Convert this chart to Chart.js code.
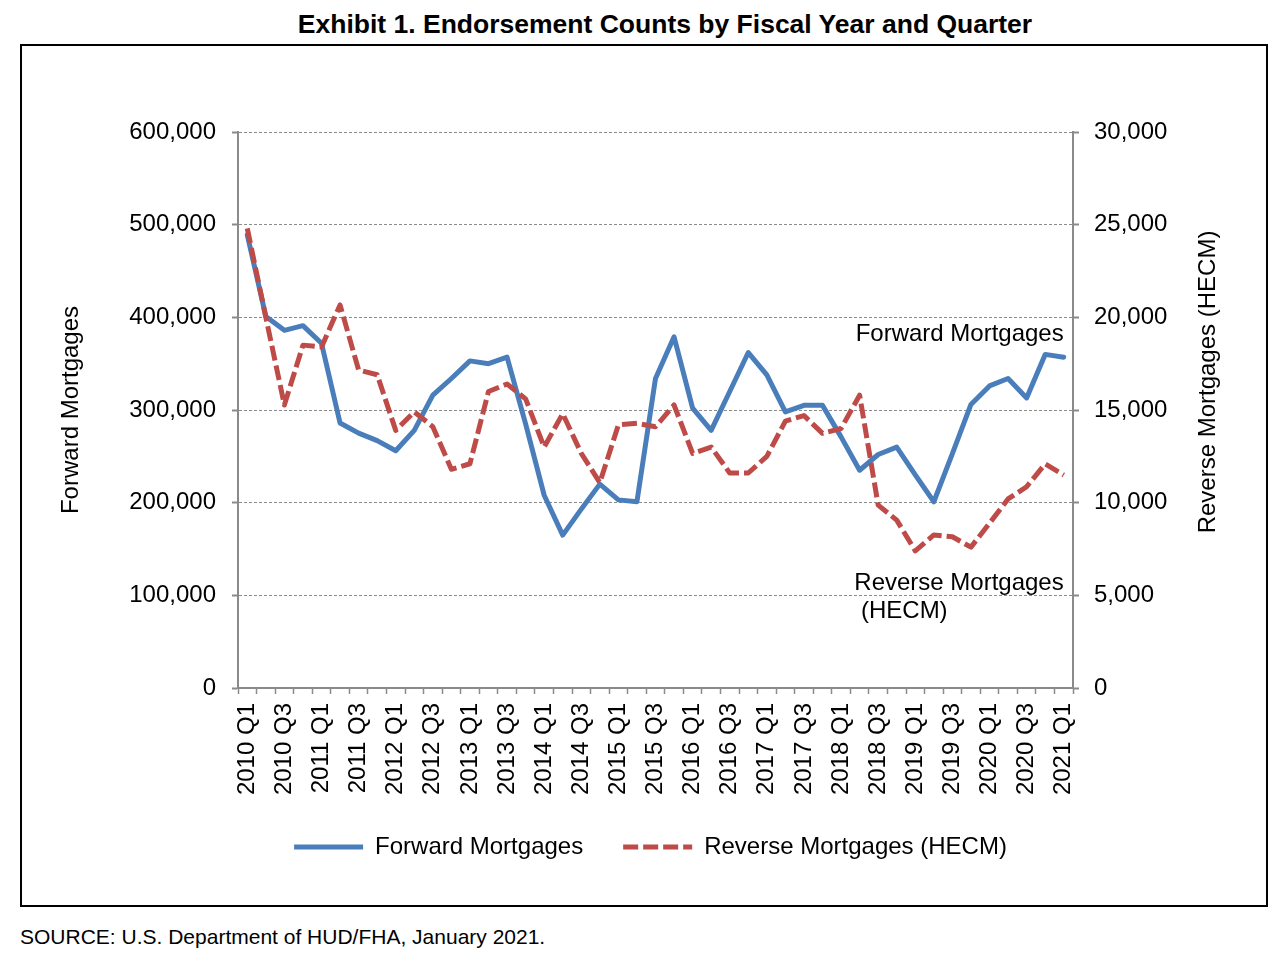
<!DOCTYPE html>
<html>
<head>
<meta charset="utf-8">
<title>Exhibit 1. Endorsement Counts by Fiscal Year and Quarter</title>
<script src="https://cdn.jsdelivr.net/npm/chart.js@4.4.1/dist/chart.umd.min.js"></script>
<style>
  html, body { margin: 0; padding: 0; background: #fff; }
  body {
    width: 1288px; height: 962px; position: relative; overflow: hidden;
    font-family: "Liberation Sans", Arial, Helvetica, sans-serif; color: #000;
  }
  .title {
    position: absolute; top: 9px; left: 42px; width: 1246px;
    text-align: center; font-weight: bold; font-size: 26.5px; line-height: 30px;
  }
  .frame {
    position: absolute; left: 20px; top: 44px; width: 1248px; height: 863px;
    border: 2px solid #000; box-sizing: border-box;
  }
  .chart-box { position: absolute; left: 0; top: 0; width: 1244px; height: 859px; }
  .source { position: absolute; left: 20px; top: 925px; font-size: 21px; line-height: 24px; }
</style>
</head>
<body>
<div class="title">Exhibit 1. Endorsement Counts by Fiscal Year and Quarter</div>
<div class="frame">
  <div class="chart-box"><canvas id="endorsementChart"></canvas></div>
</div>
<div class="source">SOURCE: U.S. Department of HUD/FHA, January 2021.</div>

<script>
// --- DATA ---
const quarters = [
    "2010 Q1", "2010 Q2", "2010 Q3", "2010 Q4", "2011 Q1", "2011 Q2", "2011 Q3", "2011 Q4",
    "2012 Q1", "2012 Q2", "2012 Q3", "2012 Q4", "2013 Q1", "2013 Q2", "2013 Q3", "2013 Q4",
    "2014 Q1", "2014 Q2", "2014 Q3", "2014 Q4", "2015 Q1", "2015 Q2", "2015 Q3", "2015 Q4",
    "2016 Q1", "2016 Q2", "2016 Q3", "2016 Q4", "2017 Q1", "2017 Q2", "2017 Q3", "2017 Q4",
    "2018 Q1", "2018 Q2", "2018 Q3", "2018 Q4", "2019 Q1", "2019 Q2", "2019 Q3", "2019 Q4",
    "2020 Q1", "2020 Q2", "2020 Q3", "2020 Q4", "2021 Q1"
];

const forwardMortgages = [
    489000, 401000, 386000, 391000, 372000, 286000, 275000, 267000,
    256000, 278000, 316000, 334000, 353000, 350000, 357000, 285000,
    208000, 165000, 193000, 220000, 203000, 201000, 334000, 379000,
    302000, 278000, 320000, 362000, 338000, 298000, 305000, 305000,
    271000, 235000, 252000, 260000, 230000, 201000, 253000, 306000,
    326000, 334000, 313000, 360000, 357000
];

const reverseMortgages = [
    24800, 20000, 15270, 18500, 18400, 20670, 17160, 16900,
    13900, 14900, 14100, 11800, 12100, 16000, 16400, 15600,
    13000, 14800, 12660, 11080, 14200, 14280, 14100, 15270,
    12660, 13000, 11600, 11600, 12500, 14400, 14700, 13740,
    14000, 15800, 9870, 9060, 7400, 8260, 8160, 7600,
    8890, 10200, 10860, 12090, 11490
];

// axis ranges
const forwardTicks = { min: 0, max: 600000, step: 100000 };
const reverseTicks = { min: 0, max: 30000, step: 5000 };

const FONT = "'Liberation Sans', Arial, Helvetica, sans-serif";
const AXIS_GRAY = '#8a8a8a';
const BLUE = '#4A7EBB';
const RED = '#BE4B48';

Chart.defaults.font.family = FONT;
Chart.defaults.font.size = 24;
Chart.defaults.color = '#000';

// in-plot series labels + right axis title (reads bottom to top)
const seriesLabels = {
    id: 'seriesLabels',
    afterDatasetsDraw(chart) {
        const { ctx, chartArea, scales: { x, y, y1 } } = chart;
        const xEnd = x.getPixelForValue(quarters.length - 1);
        ctx.save();
        ctx.font = `24px ${FONT}`;
        ctx.fillStyle = '#000';
        ctx.textBaseline = 'middle';

        ctx.textAlign = 'right';
        ctx.fillText('Forward Mortgages', xEnd, y.getPixelForValue(382000));

        const first = 'Reverse Mortgages';
        const startX = xEnd - ctx.measureText(first).width;
        const yRev = y1.getPixelForValue(5650);
        ctx.textAlign = 'left';
        ctx.fillText(first, startX, yRev);
        ctx.fillText(' (HECM)', startX, yRev + 28);

        ctx.translate(y1.right - 45, (chartArea.top + chartArea.bottom) / 2 - 28);
        ctx.rotate(-Math.PI / 2);
        ctx.textAlign = 'center';
        ctx.fillText('Reverse Mortgages (HECM)', 0, 0);
        ctx.restore();
    }
};

// --- CHART ---
const ctx = document.getElementById('endorsementChart').getContext('2d');
new Chart(ctx, {
    type: 'line',
    data: {
        labels: quarters,
        datasets: [
            {
                label: 'Forward Mortgages',
                data: forwardMortgages,
                yAxisID: 'y',
                borderColor: BLUE,
                borderWidth: 5,
                borderJoinStyle: 'round',
                borderCapStyle: 'round',
                pointRadius: 0,
                pointHoverRadius: 0,
                tension: 0,
                fill: false,
                order: 1
            },
            {
                label: 'Reverse Mortgages (HECM)',
                data: reverseMortgages,
                yAxisID: 'y1',
                borderColor: RED,
                borderWidth: 5,
                borderDash: [15, 5],
                borderJoinStyle: 'round',
                pointRadius: 0,
                pointHoverRadius: 0,
                tension: 0,
                fill: false,
                order: 0
            }
        ]
    },
    options: {
        responsive: true,
        maintainAspectRatio: false,
        animation: false,
        events: [],
        layout: { padding: { left: 26, right: 13, top: 86, bottom: 36 } },
        plugins: {
            tooltip: { enabled: false },
            legend: {
                position: 'bottom',
                labels: {
                    color: '#000',
                    font: { size: 24 },
                    padding: 40,
                    usePointStyle: true,
                    pointStyleWidth: 69,
                    boxHeight: 24,
                    generateLabels(chart) {
                        const items = Chart.defaults.plugins.legend.labels.generateLabels(chart);
                        items.forEach(item => {
                            const ds = chart.data.datasets[item.datasetIndex];
                            item.pointStyle = 'line';
                            item.lineWidth = ds.borderWidth;
                            item.lineDash = ds.borderDash || [];
                            item.strokeStyle = ds.borderColor;
                            item.lineCap = 'butt';
                        });
                        return items.sort((a, b) => a.datasetIndex - b.datasetIndex);
                    }
                }
            }
        },
        scales: {
            x: {
                type: 'category',
                offset: true,
                afterFit: s => { s.height = 107; },
                grid: {
                    offset: true,
                    drawOnChartArea: false,
                    drawTicks: true,
                    tickLength: 6,
                    tickColor: AXIS_GRAY,
                    tickWidth: 1.5,
                    color: AXIS_GRAY
                },
                border: { display: true, color: AXIS_GRAY, width: 2 },
                ticks: {
                    autoSkip: false,
                    maxRotation: 90,
                    minRotation: 90,
                    padding: 9,
                    color: '#000',
                    font: { size: 24 },
                    callback(value, index) {
                        return index % 2 === 0 ? this.getLabelForValue(value) : '';
                    }
                }
            },
            y: {
                position: 'left',
                min: forwardTicks.min,
                max: forwardTicks.max,
                afterFit: s => { s.width = 190; },
                ticks: {
                    stepSize: forwardTicks.step,
                    padding: 16,
                    color: '#000',
                    font: { size: 24 },
                    callback: v => v.toLocaleString('en-US')
                },
                grid: {
                    color: '#8c8c8c',
                    lineWidth: 1,
                    drawTicks: true,
                    tickLength: 6,
                    tickColor: AXIS_GRAY,
                    tickWidth: 2,
                    tickBorderDash: []
                },
                border: { display: true, color: AXIS_GRAY, width: 2, dash: [3, 2] },
                title: {
                    display: true,
                    text: 'Forward Mortgages',
                    color: '#000',
                    font: { size: 24 },
                    padding: { top: 8.6, bottom: 0 }
                }
            },
            y1: {
                position: 'right',
                min: reverseTicks.min,
                max: reverseTicks.max,
                afterFit: s => { s.width = 180; },
                ticks: {
                    stepSize: reverseTicks.step,
                    padding: 15,
                    color: '#000',
                    font: { size: 24 },
                    callback: v => v.toLocaleString('en-US')
                },
                grid: {
                    drawOnChartArea: false,
                    drawTicks: true,
                    tickLength: 6,
                    tickColor: AXIS_GRAY,
                    tickWidth: 2,
                    color: AXIS_GRAY
                },
                border: { display: true, color: AXIS_GRAY, width: 2 }
            }
        }
    },
    plugins: [seriesLabels]
});
</script>
</body>
</html>
